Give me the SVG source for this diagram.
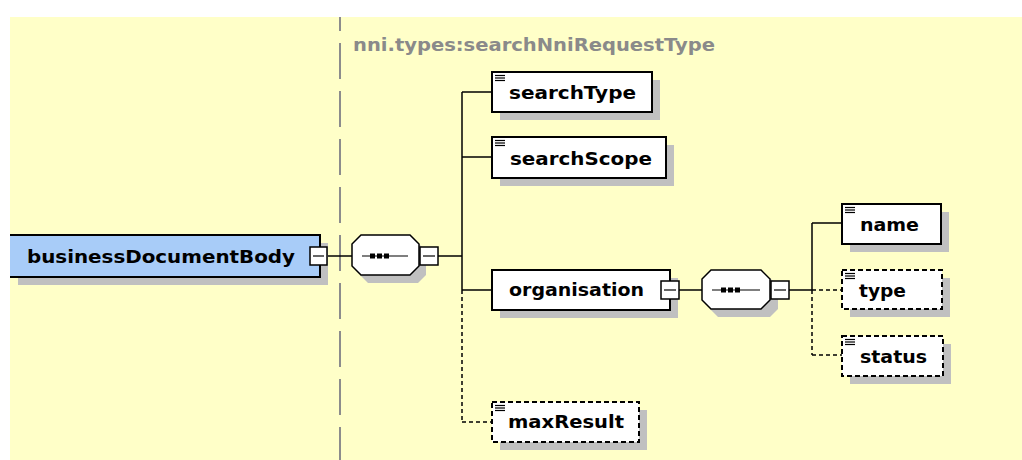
<svg xmlns="http://www.w3.org/2000/svg" width="1022" height="460" viewBox="0 0 1022 460">
<defs>
<style>
.bg{fill:#FFFFC8}
.sh{fill:#C0C0C0}
.box{fill:#FFFFFF;stroke:#000;stroke-width:2}
.opt{fill:#FFFFFF;stroke:#000;stroke-width:2;stroke-dasharray:5 3}
.lbl{font-family:"DejaVu Sans","Liberation Sans",sans-serif;font-weight:bold;font-size:18px;fill:#000}
.type{font-family:"DejaVu Sans","Liberation Sans",sans-serif;font-weight:bold;font-size:18px;fill:#8A8A8A}
.ln{stroke:#000;stroke-width:1.5;fill:none}
.dl{stroke:#000;stroke-width:1.5;fill:none;stroke-dasharray:4 3}
.ic{stroke:#000;stroke-width:1.2}
.sq{fill:#FFFFFF;stroke:#000;stroke-width:1.5}
.oct{fill:#FFFFFF;stroke:#000;stroke-width:1.5}
</style>
</defs>
<rect x="0" y="0" width="1022" height="460" fill="#FFFFFF"/>
<rect class="bg" x="10" y="17" width="1012" height="443"/>
<line x1="340" y1="17" x2="340" y2="460" stroke="#8C8C8C" stroke-width="2" stroke-dasharray="36 12" stroke-dashoffset="22"/>
<text class="type" x="353" y="51" textLength="362" lengthAdjust="spacingAndGlyphs">nni.types:searchNniRequestType</text>

<g id="connectors">
<line class="ln" x1="327" y1="256" x2="352" y2="256"/>
<line class="ln" x1="438" y1="256" x2="462" y2="256"/>
<line class="ln" x1="462" y1="92" x2="462" y2="290"/>
<line class="dl" x1="462" y1="290" x2="462" y2="422"/>
<line class="ln" x1="462" y1="92" x2="492" y2="92"/>
<line class="ln" x1="462" y1="157" x2="492" y2="157"/>
<line class="ln" x1="462" y1="290" x2="492" y2="290"/>
<line class="dl" x1="462" y1="422" x2="492" y2="422"/>
<line class="ln" x1="679" y1="290" x2="702" y2="290"/>
<line class="ln" x1="789" y1="290" x2="812" y2="290"/>
<line class="ln" x1="812" y1="223" x2="812" y2="290"/>
<line class="dl" x1="812" y1="290" x2="812" y2="355"/>
<line class="ln" x1="812" y1="223" x2="842" y2="223"/>
<line class="dl" x1="812" y1="290" x2="842" y2="290"/>
<line class="dl" x1="812" y1="355" x2="842" y2="355"/>
</g>

<g id="businessDocumentBody">
<rect class="sh" x="18" y="243" width="310" height="42"/>
<rect x="10" y="235" width="310" height="42" fill="#A8CCF8"/>
<path d="M10,235 H320 V277 H10" fill="none" stroke="#000" stroke-width="2"/>
<text class="lbl" x="27" y="263" textLength="268" lengthAdjust="spacingAndGlyphs">businessDocumentBody</text>
<rect class="sq" x="310" y="247" width="17" height="18"/>
<line class="ic" x1="313" y1="256" x2="324" y2="256"/>
</g>

<g id="sequence1">
<polygon class="sh" points="368,243 418,243 426,251 426,275 418,283 368,283 360,275 360,251"/>
<polygon class="oct" points="361,235 410,235 419,244 419,266 410,275 361,275 352,266 352,244"/>
<line class="ic" x1="362" y1="256" x2="408" y2="256"/>
<rect x="370" y="253.5" width="5" height="5" fill="#000"/>
<rect x="377" y="253.5" width="5" height="5" fill="#000"/>
<rect x="384" y="253.5" width="5" height="5" fill="#000"/>
<rect class="sq" x="420" y="247" width="18" height="18"/>
<line class="ic" x1="423" y1="256" x2="435" y2="256"/>
</g>

<g id="searchType">
<rect class="sh" x="500" y="80" width="160" height="40"/>
<rect class="box" x="492" y="72" width="160" height="40"/>
<line class="ic" x1="495" y1="75.5" x2="505" y2="75.5"/>
<line class="ic" x1="495" y1="78" x2="505" y2="78"/>
<line class="ic" x1="495" y1="80.5" x2="505" y2="80.5"/>
<text class="lbl" x="509" y="99" textLength="127" lengthAdjust="spacingAndGlyphs">searchType</text>
</g>

<g id="searchScope">
<rect class="sh" x="500" y="145" width="174" height="41"/>
<rect class="box" x="492" y="137" width="174" height="41"/>
<line class="ic" x1="495" y1="140.5" x2="505" y2="140.5"/>
<line class="ic" x1="495" y1="143" x2="505" y2="143"/>
<line class="ic" x1="495" y1="145.5" x2="505" y2="145.5"/>
<text class="lbl" x="510" y="165" textLength="142" lengthAdjust="spacingAndGlyphs">searchScope</text>
</g>

<g id="organisation">
<rect class="sh" x="500" y="278" width="178" height="40"/>
<rect class="box" x="492" y="270" width="178" height="40"/>
<text class="lbl" x="509" y="296" textLength="135" lengthAdjust="spacingAndGlyphs">organisation</text>
<rect class="sq" x="661" y="281" width="18" height="18"/>
<line class="ic" x1="664" y1="290" x2="676" y2="290"/>
</g>

<g id="sequence2">
<polygon class="sh" points="718,278 770,278 778,286 778,309 770,317 718,317 710,309 710,286"/>
<polygon class="oct" points="711,270 761,270 770,279 770,300 761,309 711,309 702,300 702,279"/>
<line class="ic" x1="712" y1="290" x2="760" y2="290"/>
<rect x="721" y="287.5" width="5" height="5" fill="#000"/>
<rect x="728" y="287.5" width="5" height="5" fill="#000"/>
<rect x="735" y="287.5" width="5" height="5" fill="#000"/>
<rect class="sq" x="771" y="281" width="18" height="18"/>
<line class="ic" x1="774" y1="290" x2="786" y2="290"/>
</g>

<g id="maxResult">
<rect class="sh" x="500" y="410" width="147" height="40"/>
<rect class="opt" x="492" y="402" width="147" height="40"/>
<line class="ic" x1="495" y1="405.5" x2="505" y2="405.5"/>
<line class="ic" x1="495" y1="408" x2="505" y2="408"/>
<line class="ic" x1="495" y1="410.5" x2="505" y2="410.5"/>
<text class="lbl" x="508" y="428" textLength="116" lengthAdjust="spacingAndGlyphs">maxResult</text>
</g>

<g id="name">
<rect class="sh" x="850" y="212" width="99" height="40"/>
<rect class="box" x="842" y="204" width="99" height="40"/>
<line class="ic" x1="845" y1="207.5" x2="855" y2="207.5"/>
<line class="ic" x1="845" y1="210" x2="855" y2="210"/>
<line class="ic" x1="845" y1="212.5" x2="855" y2="212.5"/>
<text class="lbl" x="860" y="231" textLength="59" lengthAdjust="spacingAndGlyphs">name</text>
</g>

<g id="type">
<rect class="sh" x="850" y="278" width="100" height="39"/>
<rect class="opt" x="842" y="270" width="100" height="39"/>
<line class="ic" x1="845" y1="273.5" x2="855" y2="273.5"/>
<line class="ic" x1="845" y1="276" x2="855" y2="276"/>
<line class="ic" x1="845" y1="278.5" x2="855" y2="278.5"/>
<text class="lbl" x="859" y="297" textLength="47" lengthAdjust="spacingAndGlyphs">type</text>
</g>

<g id="status">
<rect class="sh" x="850" y="344" width="101" height="40"/>
<rect class="opt" x="842" y="336" width="101" height="40"/>
<line class="ic" x1="845" y1="339.5" x2="855" y2="339.5"/>
<line class="ic" x1="845" y1="342" x2="855" y2="342"/>
<line class="ic" x1="845" y1="344.5" x2="855" y2="344.5"/>
<text class="lbl" x="860" y="363" textLength="67" lengthAdjust="spacingAndGlyphs">status</text>
</g>
</svg>
